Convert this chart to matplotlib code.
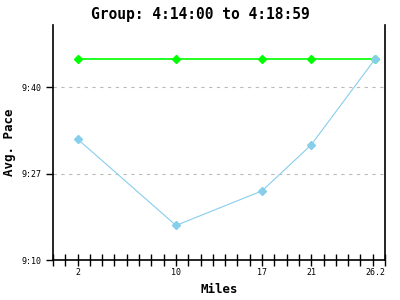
import matplotlib
matplotlib.use("Agg")
import matplotlib.pyplot as plt

# split miles and pace (seconds per mile)
miles = [2, 10, 17, 21, 26.2]
group_pace = [584.9, 584.9, 584.9, 584.9, 584.9]
runner_pace = [571.0, 556.0, 562.0, 570.0, 584.9]

ytick_pos = [550, 565, 580]
ytick_labels = ["9:10", "9:27", "9:40"]
xtick_labels = ["2", "10", "17", "21", "26.2"]

mono = "DejaVu Sans Mono"

fig = plt.figure(figsize=(4, 3), dpi=100)
ax = fig.add_axes([0.1325, 0.1333, 0.83, 0.7834])

ax.plot(miles, group_pace, color="#00ff00", lw=1.2, marker="D", ms=4, zorder=3)
ax.plot(miles, runner_pace, color="#87ceeb", lw=0.8, marker="D", ms=4, zorder=3)

ax.set_xlim(0, 27)
ax.set_ylim(550, 590.8)

# labels at the split miles, tick marks on every mile
ax.xaxis.remove_overlapping_locs = False
ax.set_xticks(miles)
ax.set_xticklabels(xtick_labels, fontsize=6, family=mono)
ax.tick_params(axis="x", which="major", length=0, pad=6)
ax.set_xticks(range(0, 28), minor=True)
ax.tick_params(axis="x", which="minor", direction="inout", length=8, width=1)
ax.set_yticks(ytick_pos)
ax.set_yticklabels(ytick_labels, fontsize=6, family=mono)
ax.tick_params(axis="y", direction="out", length=5, width=1)

ax.grid(axis="y", color="#bbbbbb", linestyle=(0, (3, 4)), lw=0.8)
ax.spines["top"].set_visible(False)
for s in ["left", "right", "bottom"]:
    ax.spines[s].set_linewidth(1.2)

ax.set_xlabel("Miles", fontsize=9, fontweight="bold", family=mono)
ax.set_ylabel("Avg. Pace", fontsize=9, fontweight="bold", family=mono)
fig.text(0.5, 0.953, "Group: 4:14:00 to 4:18:59", ha="center", va="center",
         fontsize=10.5, fontweight="bold", family=mono)

fig.savefig("out.png", dpi=100)
